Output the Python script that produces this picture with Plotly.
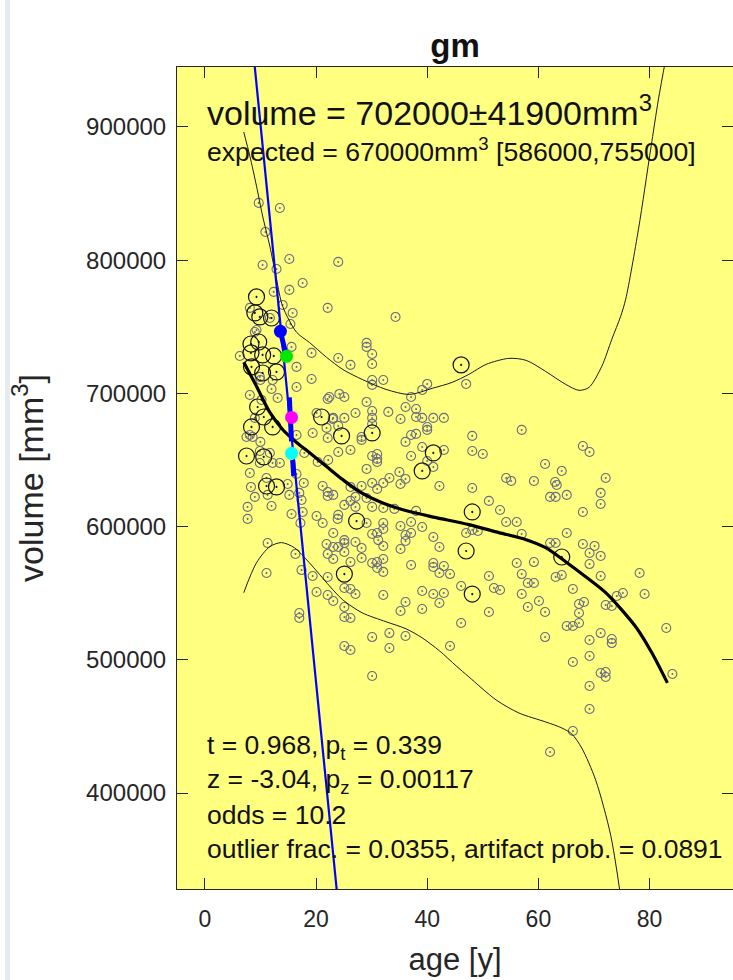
import plotly.graph_objects as go

# ---------------- data (age in years, volume in mm^3) ----------------
gray_points = [
    (9.7, 843000), (13.5, 839200), (10.9, 821200), (15.2, 800900), (24.0, 798700),
    (10.4, 796400), (12.9, 793400), (17.6, 782900), (15.2, 777700), (12.4, 776200),
    (34.3, 757400),
    (8.1, 764200), (14.0, 766400), (15.8, 760400), (22.1, 764200), (9.3, 747600),
    (15.4, 752100), (6.3, 728100), (15.6, 734900), (16.5, 719900), (19.2, 730400),
    (9.9, 712400), (10.0, 710100), (12.2, 710100), (19.2, 710800), (16.5, 704800),
    (12.0, 703300), (8.1, 698800), (13.1, 696600), (22.1, 695800), (10.2, 695100),
    (20.1, 685300), (23.0, 680800), (21.9, 674100), (9.0, 681600), (7.5, 667300),
    (8.6, 667300), (10.0, 663600), (16.5, 668800), (19.4, 670300), (22.1, 666500),
    (9.9, 656800), (9.9, 647800), (12.2, 647800), (13.5, 647800), (17.9, 655300),
    (20.3, 648500), (22.2, 650000), (11.1, 636500), (16.5, 639500), (11.7, 756600),
    (9.0, 746100), (8.1, 668800), (11.7, 655300), (8.1, 640300),
    (8.3, 629800), (9.0, 622300), (7.7, 614800), (7.7, 605800), (11.3, 623800),
    (12.0, 615500), (14.9, 632000), (15.2, 623800), (17.0, 625300), (17.4, 620000),
    (17.8, 632800), (17.6, 611000), (15.6, 609500), (17.2, 602700), (11.3, 587700),
    (16.3, 579500), (11.1, 565200), (17.4, 567400), (19.4, 562900), (20.1, 608000),
    (21.2, 602700), (21.2, 630500), (22.1, 626000), (22.1, 623000), (23.1, 595200),
    (21.9, 587000), (22.1, 579500), (23.1, 575700), (20.1, 550900), (22.1, 548700),
    (23.1, 544200), (22.1, 562200), (17.0, 535200), (17.0, 531400), (23.9, 605800),
    (23.1, 584700),
    (29.1, 737900), (29.1, 734900), (30.1, 729600), (24.0, 726600), (26.2, 721400),
    (30.1, 722100), (30.1, 710100), (30.1, 706400), (32.1, 710100), (40.0, 707100),
    (39.1, 702600), (37.1, 697300), (47.0, 707100), (24.2, 699600), (25.1, 697300),
    (29.1, 693600), (22.4, 697300), (36.1, 689800), (38.0, 688300), (27.1, 685300),
    (30.1, 686800), (33.0, 686100), (23.1, 681600), (25.1, 681600), (30.1, 681600),
    (35.2, 680800), (38.0, 682300), (39.1, 681600), (41.1, 681600), (43.0, 681600),
    (24.0, 675600), (30.1, 677100), (40.0, 674800), (40.0, 672600), (28.2, 667300),
    (28.2, 665100), (37.1, 668800), (38.0, 669600), (48.1, 668100), (36.1, 663600),
    (39.1, 659800), (43.0, 657500), (48.1, 656800), (24.0, 656000), (26.2, 657500),
    (30.1, 653000), (31.0, 654500), (31.0, 650800), (31.0, 648500), (37.1, 653000),
    (40.0, 649300), (41.1, 644800), (29.1, 643300), (33.2, 636500), (36.1, 635800),
    (35.2, 632000), (30.1, 632800), (31.0, 628300), (32.1, 632800), (28.2, 630500),
    (42.2, 630500), (48.1, 629000), (26.2, 629800), (27.1, 622300), (26.2, 619300),
    (29.1, 621500), (23.1, 623800), (25.1, 616300), (27.1, 614800), (30.1, 614800),
    (32.1, 614000), (34.1, 613300), (38.0, 611800), (24.0, 608800), (50.0, 654500),
    (35.0, 641000),
    (29.1, 602700), (32.1, 602700), (32.1, 598200), (35.2, 600500), (37.1, 603500),
    (39.1, 599700), (25.1, 589900), (25.1, 587700), (27.1, 588500), (30.1, 594500),
    (31.0, 595200), (36.1, 593700), (37.1, 595200), (36.1, 589200), (41.1, 592200),
    (47.0, 595200), (48.1, 597500), (31.2, 589900), (32.1, 585500), (42.2, 584700),
    (24.0, 584700), (28.2, 584000), (35.2, 583200), (25.1, 581000), (26.2, 573400),
    (28.2, 576500), (30.1, 572700), (31.0, 573400), (32.1, 575700), (31.0, 569000),
    (32.1, 566000), (37.1, 571200), (41.1, 572700), (41.1, 569700), (43.0, 570400),
    (42.2, 565200), (44.1, 564400), (46.1, 555400), (25.1, 553900), (26.2, 553200),
    (27.1, 549400), (32.1, 548700), (39.1, 551700), (41.1, 549400), (43.0, 550200),
    (36.1, 543400), (42.2, 542700), (25.1, 539700), (25.1, 532200), (26.2, 531400),
    (35.2, 536700), (39.1, 538200), (46.1, 527700), (33.2, 520100), (36.1, 517900),
    (30.1, 517100), (44.1, 510400), (25.1, 510400), (26.2, 507400), (33.2, 508900),
    (30.1, 487900),
    (57.0, 672600), (61.2, 647000), (64.2, 641800), (68.0, 660500), (69.2, 656000),
    (72.1, 636500), (54.2, 636500), (55.1, 634300), (59.2, 634300), (63.0, 633500),
    (63.3, 631300), (62.1, 622300), (63.1, 622300), (65.1, 623800), (71.2, 625300),
    (71.2, 617000), (51.1, 619300), (53.1, 612500), (68.0, 611000), (54.2, 603500),
    (56.1, 603500), (57.0, 594500), (65.1, 595200), (62.1, 587700), (63.1, 587700),
    (68.0, 587000), (70.1, 585500), (69.2, 580200), (71.2, 578000), (49.1, 596700),
    (56.1, 572700), (59.2, 573400), (69.2, 571900), (51.1, 562900), (57.0, 564400),
    (63.1, 562200), (64.2, 563700), (71.2, 562900), (78.2, 565200), (58.1, 557700),
    (59.2, 557700), (52.0, 553900), (53.1, 552400), (66.2, 553200), (74.1, 547900),
    (75.2, 550200), (79.1, 549400), (57.0, 549400), (60.1, 544200), (68.2, 543400),
    (67.3, 541900), (72.1, 541200), (73.2, 540400), (51.1, 535900), (58.1, 539700),
    (61.2, 535900), (67.3, 535200), (65.1, 525400), (66.2, 525400), (67.3, 527700),
    (83.0, 523900), (71.2, 520100), (69.2, 514900), (73.2, 515600), (73.2, 512600),
    (61.2, 517100), (69.2, 502900), (66.2, 498400), (71.2, 490100), (72.1, 490900),
    (72.1, 487100), (84.1, 489400), (69.2, 480400), (69.2, 463100), (66.2, 446600),
    (62.1, 430800),
]

big_points = [
    (9.3, 772400), (9.0, 760400), (9.9, 757400), (12.0, 756600), (9.7, 738600),
    (8.3, 737100), (8.3, 730400), (10.4, 728900), (12.4, 728100), (8.4, 719900),
    (10.4, 715300), (12.9, 716100), (9.5, 689800), (10.6, 682300), (21.0, 682300),
    (8.4, 674800), (12.2, 674800), (7.5, 653000), (10.6, 652300), (11.1, 630500),
    (12.9, 629800), (46.1, 721400), (24.6, 668100), (30.1, 670300), (41.1, 655300),
    (39.1, 641800), (48.1, 611000), (27.3, 604200), (47.0, 581700), (25.1, 564400),
    (48.1, 549400), (64.2, 577200),
]

fit_age = [7.0, 9.3, 11.7, 14.0, 16.5, 18.8, 21.9, 24.8, 27.8, 31.9, 36.8,
           41.6, 47.5, 52.9, 57.8, 61.3, 64.9, 68.5, 72.1, 77.5, 80.4, 83.2]
fit_vol = [723300, 705300, 685700, 672900, 663200, 655600, 645100, 635300,
           626300, 618000, 611300, 606800, 601500, 595500, 590200, 584200,
           573700, 562400, 550400, 524800, 505300, 482700]

upper_age = [7.0, 8.1, 9.3, 10.4, 11.7, 12.9, 14.0, 16.5, 18.8, 21.9, 24.8,
             28.3, 32.6, 36.8, 40.9, 44.5, 47.5, 50.6, 54.7, 57.8, 61.3, 64.9,
             67.3, 69.1, 71.4, 73.2, 74.8, 75.7, 78.0, 80.2, 81.6, 82.9]
upper_vol = [896200, 878200, 855600, 833100, 810500, 785700, 765400, 745900,
             738300, 727100, 718000, 710500, 703000, 699200, 703800, 708300,
             714300, 721800, 726300, 724800, 716500, 706800, 702300, 704500,
             720300, 740600, 757900, 770700, 823300, 883500, 921000, 951000]

lower_age = [7.0, 9.3, 11.7, 13.8, 16.1, 18.8, 22.4, 24.8, 28.3, 32.6, 36.2,
             39.1, 42.2, 45.2, 47.5, 52.4, 56.5, 61.3, 64.2, 66.0, 67.8, 70.3,
             73.0, 74.6]
lower_vol = [550400, 572900, 585000, 588000, 584200, 572900, 555600, 545100,
             535300, 528600, 523300, 516500, 506800, 495500, 487200, 469900,
             460100, 453400, 448900, 444400, 433800, 409800, 368400, 327800]

line_age = [8.0, 25.0]
line_vol = [986500, 274000]

seg_age = [13.6, 14.6, None, 15.2, 15.6, None, 15.8, 16.0]
seg_vol = [746600, 729000, None, 697000, 664000, None, 650000, 638000]

dot_age = [13.6, 14.7, 15.6, 15.6]
dot_vol = [746600, 727800, 682000, 655000]
dot_colors = ["#0000ff", "#00e600", "#ff00ff", "#00ffff"]

x_ticks = [0, 20, 40, 60, 80]
y_ticks = [400000, 500000, 600000, 700000, 800000, 900000]

title_text = "<b>gm</b>"
x_title = "age [y]"
y_title = "volume [mm<sup>3</sup>]"
main_text = "volume = 702000±41900mm<sup>3</sup>"
expected_text = "expected = 670000mm<sup>3</sup> [586000,755000]"
stats_lines = [
    "t = 0.968, p<sub>t</sub> = 0.339",
    "z = -3.04, p<sub>z</sub> = 0.00117",
    "odds = 10.2",
    "outlier frac. = 0.0355, artifact prob. = 0.0891",
]

# ---------------- figure ----------------
FONT = "Liberation Sans, Arial, Helvetica, sans-serif"
INK = "#262626"
W, H = 733, 980
ML, MR, MT, MB = 177, 0, 67, 91
PW, PH = W - ML - MR, H - MT - MB


def px_to_paper_x(px):
    return (px - ML) / PW


def px_to_paper_y(py):
    return (H - MB - py) / PH


fig = go.Figure()

fig.add_trace(go.Scatter(
    x=[p[0] for p in gray_points], y=[p[1] for p in gray_points],
    mode="markers",
    marker=dict(symbol="circle-open-dot", size=9, color="#6c6c82",
                line=dict(width=1.1, color="#6c6c82")),
    hoverinfo="skip"))

fig.add_trace(go.Scatter(
    x=[p[0] for p in big_points], y=[p[1] for p in big_points],
    mode="markers",
    marker=dict(symbol="circle-open-dot", size=16, color="#111111",
                line=dict(width=1.2, color="#111111")),
    hoverinfo="skip"))

for xs, ys in ((upper_age, upper_vol), (lower_age, lower_vol)):
    fig.add_trace(go.Scatter(x=xs, y=ys, mode="lines",
                             line=dict(color="#1a1a1a", width=1, shape="spline", smoothing=0.8),
                             hoverinfo="skip"))

fig.add_trace(go.Scatter(x=fit_age, y=fit_vol, mode="lines",
                         line=dict(color="#000000", width=3.2, shape="spline", smoothing=0.8),
                         hoverinfo="skip"))

fig.add_trace(go.Scatter(x=line_age, y=line_vol, mode="lines",
                         line=dict(color="#0000ff", width=2.2), hoverinfo="skip"))

fig.add_trace(go.Scatter(x=seg_age, y=seg_vol, mode="lines",
                         line=dict(color="#0000ff", width=5), hoverinfo="skip",
                         connectgaps=False))

fig.add_trace(go.Scatter(x=dot_age, y=dot_vol, mode="markers",
                         marker=dict(size=13, color=dot_colors, line=dict(width=0)),
                         hoverinfo="skip"))

annotations = [
    dict(text=main_text, x=px_to_paper_x(206), y=px_to_paper_y(110),
         font=dict(size=34, color="#111111", family=FONT)),
    dict(text=expected_text, x=px_to_paper_x(206), y=px_to_paper_y(150),
         font=dict(size=26.6, color="#111111", family=FONT)),
]
for i, line in enumerate(stats_lines):
    annotations.append(dict(text=line, x=px_to_paper_x(206), y=px_to_paper_y(747 + 34 * i),
                            font=dict(size=26.5, color="#111111", family=FONT)))
for a in annotations:
    a.update(xref="paper", yref="paper", xanchor="left", yanchor="middle",
             showarrow=False, borderpad=0)

fig.update_layout(
    width=W, height=H,
    margin=dict(l=ML, r=MR, t=MT, b=MB, pad=0),
    paper_bgcolor="#ffffff",
    plot_bgcolor="#ffff80",
    showlegend=False,
    font=dict(family=FONT, color=INK),
    title=dict(text=title_text, x=0.5, xref="paper", xanchor="center",
               y=1 - 45 / H, yref="container", yanchor="middle",
               font=dict(size=33, color="#111111", family=FONT)),
    annotations=annotations,
    shapes=[dict(type="rect", xref="paper", yref="paper",
                 x0=px_to_paper_x(5), x1=px_to_paper_x(10),
                 y0=px_to_paper_y(H), y1=px_to_paper_y(0),
                 fillcolor="#e6ebf2", line=dict(width=0), layer="below")],
)

fig.update_xaxes(
    range=[-5, 95], tickvals=x_ticks, ticktext=[str(v) for v in x_ticks],
    ticks="inside", ticklen=11, tickwidth=1, tickcolor=INK,
    showline=True, linecolor=INK, linewidth=1, mirror="allticks",
    showgrid=False, zeroline=False,
    tickfont=dict(size=23, color=INK, family=FONT), ticklabelstandoff=9,
    title=dict(text=x_title, font=dict(size=31, color=INK, family=FONT), standoff=17),
)
fig.update_yaxes(
    range=[328000, 945000], tickvals=y_ticks, ticktext=[str(v) for v in y_ticks],
    ticks="inside", ticklen=11, tickwidth=1, tickcolor=INK,
    showline=True, linecolor=INK, linewidth=1, mirror="allticks",
    showgrid=False, zeroline=False,
    tickfont=dict(size=24, color=INK, family=FONT), ticklabelstandoff=5,
    title=dict(text=y_title, font=dict(size=34, color=INK, family=FONT), standoff=32),
)

# remove the browser's default page margin so the figure fills the window exactly
page_fix = ("document.body.style.margin='0';"
            "document.body.style.overflow='hidden';"
            "document.documentElement.style.overflow='hidden';")
fig.write_html("out.html", post_script=page_fix, config={"displayModeBar": False})
